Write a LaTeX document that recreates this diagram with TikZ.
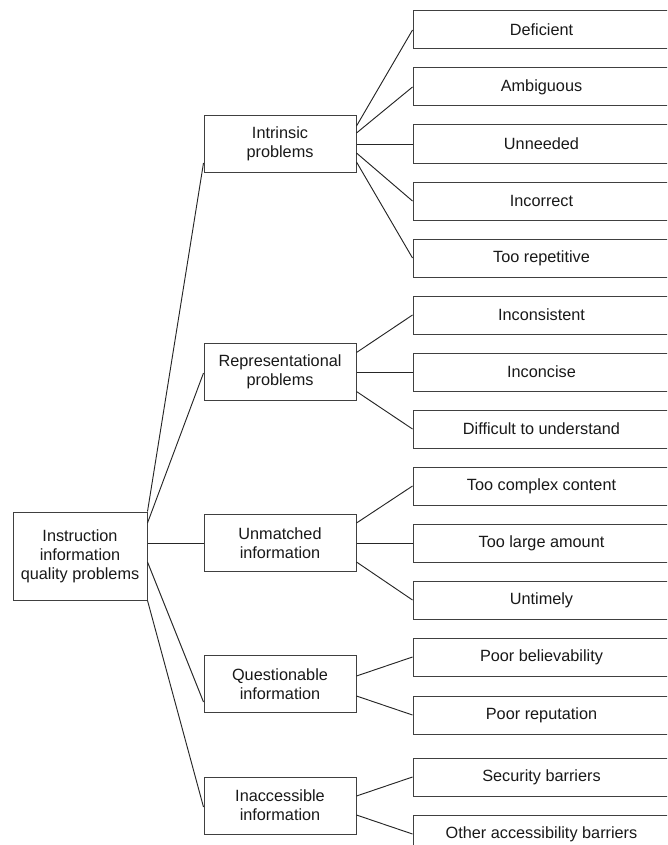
\documentclass[tikz,border=0pt]{standalone}
\usepackage{fontspec}
\setmainfont{Liberation Sans}
\usetikzlibrary{calc}
\begin{document}
\begin{tikzpicture}[x=0.75pt,y=-0.75pt,
  box/.style={draw=black!75,line width=0.75pt,fill=white,align=center,inner sep=0pt,
    font=\fontsize{12.2pt}{14.4pt}\selectfont,text=black!90},
  rootbox/.style={box,minimum width=100.5pt,minimum height=66pt},
  midbox/.style={box,minimum width=114pt,minimum height=42.75pt},
  leafbox/.style={box,minimum width=192.75pt,minimum height=28.5pt},
  conn/.style={draw=black!85,line width=0.7pt}]
\useasboundingbox (0,0) rectangle (667,845);
\clip (0,0) rectangle (667,845);
% root
\node[rootbox] (root) at (80,556) {Instruction\\information\\quality problems};
% mid level
\node[midbox] (intr) at (280,144) {Intrinsic\\problems};
\node[midbox] (repr) at (280,371.5) {Representational\\problems};
\node[midbox] (unm) at (280,543) {Unmatched\\information};
\node[midbox] (quest) at (280,684) {Questionable\\information};
\node[midbox] (inacc) at (280,805.5) {Inaccessible\\information};
% leaves
\node[leafbox] (l1) at (541.5,30) {Deficient};
\node[leafbox] (l2) at (541.5,87) {Ambiguous};
\node[leafbox] (l3) at (541.5,144) {Unneeded};
\node[leafbox] (l4) at (541.5,201) {Incorrect};
\node[leafbox] (l5) at (541.5,258) {Too repetitive};
\node[leafbox] (l6) at (541.5,315) {Inconsistent};
\node[leafbox] (l7) at (541.5,372) {Inconcise};
\node[leafbox] (l8) at (541.5,429) {Difficult to understand};
\node[leafbox] (l9) at (541.5,486) {Too complex content};
\node[leafbox] (l10) at (541.5,543) {Too large amount};
\node[leafbox] (l11) at (541.5,600) {Untimely};
\node[leafbox] (l12) at (541.5,657) {Poor believability};
\node[leafbox] (l13) at (541.5,715) {Poor reputation};
\node[leafbox] (l14) at (541.5,777) {Security barriers};
\node[leafbox] (l15) at (541.5,834) {Other accessibility barriers};
% root to mid
\draw[conn] (root.north east) -- ($(intr.west)+(0,19)$);
\draw[conn] ($(root.east)+(0,-33)$) -- ($(repr.west)+(0,1.5)$);
\draw[conn] ($(root.east)+(0,-13)$) -- (unm.west);
\draw[conn] ($(root.east)+(0,6)$) -- ($(quest.west)+(0,18)$);
\draw[conn] (root.south east) -- ($(inacc.west)+(0,1.5)$);
% intrinsic
\draw[conn] ($(intr.east)+(0,-18)$) -- (l1.west);
\draw[conn] ($(intr.east)+(0,-11)$) -- (l2.west);
\draw[conn] (intr.east) -- (l3.west);
\draw[conn] ($(intr.east)+(0,9)$) -- (l4.west);
\draw[conn] ($(intr.east)+(0,18)$) -- (l5.west);
% representational
\draw[conn] ($(repr.east)+(0,-19)$) -- (l6.west);
\draw[conn] ($(repr.east)+(0,0.5)$) -- (l7.west);
\draw[conn] ($(repr.east)+(0,20)$) -- (l8.west);
% unmatched
\draw[conn] ($(unm.east)+(0,-20)$) -- (l9.west);
\draw[conn] (unm.east) -- (l10.west);
\draw[conn] ($(unm.east)+(0,19)$) -- (l11.west);
% questionable
\draw[conn] ($(quest.east)+(0,-8)$) -- (l12.west);
\draw[conn] ($(quest.east)+(0,12)$) -- (l13.west);
% inaccessible
\draw[conn] ($(inacc.east)+(0,-9.5)$) -- (l14.west);
\draw[conn] ($(inacc.east)+(0,9.5)$) -- (l15.west);
\end{tikzpicture}
\end{document}
